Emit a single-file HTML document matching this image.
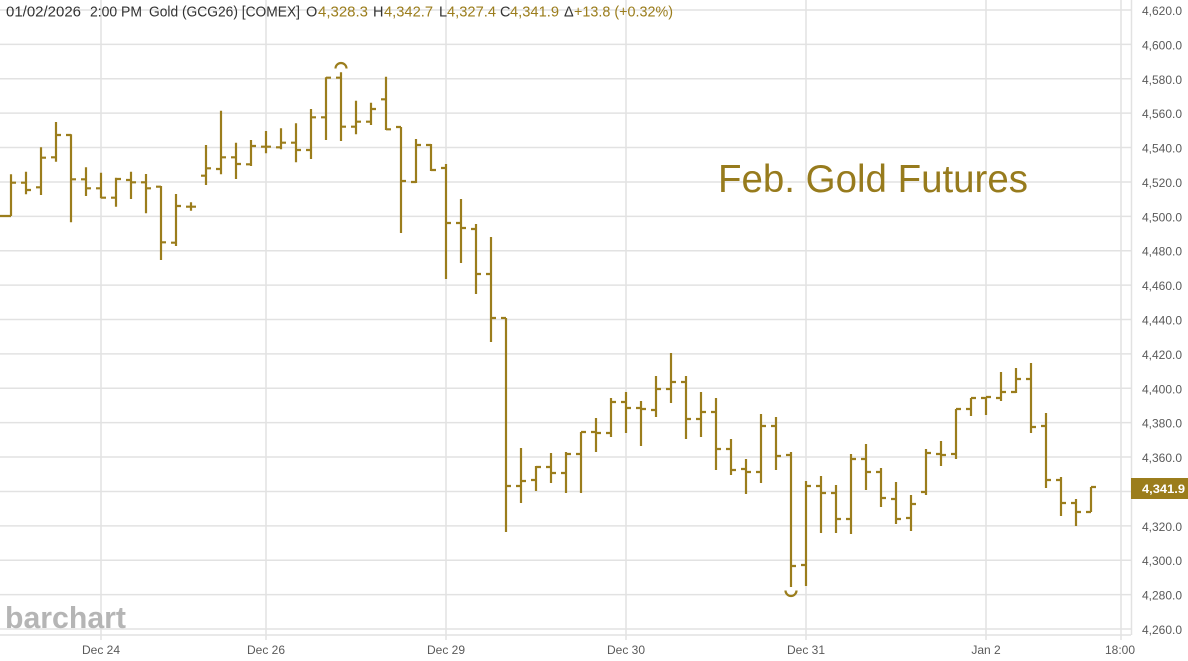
<!DOCTYPE html>
<html>
<head>
<meta charset="utf-8">
<style>
html,body{margin:0;padding:0;background:#fff;}
svg{display:block;}
text{font-family:"Liberation Sans",Arial,sans-serif;}
</style>
</head>
<body>
<svg width="1188" height="661" viewBox="0 0 1188 661" xmlns="http://www.w3.org/2000/svg">
<rect width="1188" height="661" fill="#fff"/>
<g stroke="#e2e2e2" stroke-width="1.5" fill="none">
<path d="M0 10H1131M0 44.39H1131M0 78.78H1131M0 113.17H1131M0 147.56H1131M0 181.94H1131M0 216.33H1131M0 250.72H1131M0 285.11H1131M0 319.5H1131M0 353.89H1131M0 388.28H1131M0 422.67H1131M0 457.06H1131M0 491.44H1131M0 525.83H1131M0 560.22H1131M0 594.61H1131M0 629H1131"/>
<path d="M101 0V640M266 0V640M446 0V640M626 0V640M806 0V640M986 0V640M1121 0V640"/>
<path d="M0 635H1131M1131.5 0V635"/>
</g>
<text x="5" y="628" font-size="31" font-weight="bold" fill="#b5b5b5" textLength="121" lengthAdjust="spacingAndGlyphs">barchart</text>
<text x="718" y="192" font-size="39" fill="#977b1d" textLength="310" lengthAdjust="spacingAndGlyphs">Feb. Gold Futures</text>
<g stroke="#9b7d1c" stroke-width="2.2" fill="none">
<path d="M11 174.3V216M0 216H11M11 182.7H16M26 171.7V194.3M21 182.7H26M26 190H31M41 147.3V195M36 187.3H41M41 157.7H46M56 122V161.7M51 157.3H56M56 135H61M71 134.3V222.3M66 135H71M71 179.3H76M86 167.3V196M81 179.3H86M86 188.3H91M101 172.7V198.3M96 188.3H101M101 197.7H106M116 177.7V206.7M111 197.7H116M116 179H121M131 171.7V199M126 180H131M131 182.3H136M146 174V213.3M141 182.3H146M146 188.3H151M161 186V260M156 186.7H161M161 242.3H166M176 194V246M171 242.7H176M176 206H181M191 202.3V210.7M186 206.7H196M206 145V185M201 175.7H206M206 168.3H211M221 110.7V174.3M216 169H221M221 157.3H226M236 142.7V179M231 157.3H236M236 164H241M251 140V166M246 164.3H251M251 146H256M266 131V153.3M261 146.7H271M281 128.3V149.3M276 147.3H281M281 142.7H286M296 123.3V162.3M291 142.7H296M296 150H301M311 109V159M306 150H311M311 117.3H316M326 77.3V140M321 117.3H326M326 77.7H331M341 72.3V141M336 77.7H341M341 126.7H346M356 100.7V134.3M351 126.7H356M356 121.7H361M371 102.7V125M366 121.7H371M371 109H376M386 76.7V130M381 99.3H386M386 129.3H391"/>
<path d="M401 127V233M396 127H401M401 181H406M416 139V183M411 182H416M416 145H421M431 144V171M426 145H431M431 170H436M446 164V279M441 168H446M446 223H451M461 199V263M456 223H461M461 228H466M476 224V294M471 229H476M476 274H481M491 237V342M486 274H491M491 318H496M506 318V532M501 318H506M506 486H511M521 448V503M516 486H521M521 481H526M536 466V491M531 480H536M536 467H541M551 453V483M546 467H551M551 473H556M566 452V493M561 473H566M566 454H571M581 432V493M576 454H581M581 432H586M596 418V452M591 432H596M596 433H601M611 398V437M606 433H611M611 402H616M626 392V433M621 402H626M626 408H631M641 401V446M636 408H641M641 409H646M656 376V417M651 410H656M656 389H661M671 353V403M666 389H671M671 382H676M686 376V439M681 382H686M686 419H691M701 392V437M696 419H701M701 412H706M716 398V470M711 412H716M716 449H721M731 439V475M726 449H731M731 470H736M746 459V494M741 469H746M746 472H751M761 414V483M756 472H761M761 426H766M776 417V470M771 426H776M776 456H781"/>
<path d="M791 452V587M786 455H791M791 566H796M806 481V586M801 565H806M806 486H811M821 476V533M816 486H821M821 493H826M836 485V533M831 493H836M836 519H841M851 454V534M846 519H851M851 459H856M866 444V490M861 459H866M866 472H871M881 468V507M876 472H881M881 498H886M896 482V524M891 499H896M896 519H901M911 495V531M906 518H911M911 504H916M926 449V495M921 492H926M926 453H931M941 441V466M936 454H941M941 455H946M956 409V459M951 454H956M956 409H961M971 398V416M966 409H971M971 398H976M986 397V415M981 398H986M986 397H991M1001 372V401M996 398H1001M1001 392H1006M1016 368V393M1011 392H1016M1016 379H1021M1031 363V433M1026 379H1031M1031 427H1036M1046 413V488M1041 426H1046M1046 480H1051M1061 477V516M1056 480H1061M1061 503H1066M1076 499V526M1071 503H1076M1076 512H1081M1091 487V512M1086 512H1091M1091 487H1096"/>
<path d="M335.5 68.5A5.5 5.5 0 0 1 346.5 68.5"/>
<path d="M785.5 590.5A5.5 5.5 0 0 0 796.5 590.5"/>
</g>
<g font-size="12" fill="#5a5a5a">
<text x="1142" y="15">4,620.0</text>
<text x="1142" y="49.4">4,600.0</text>
<text x="1142" y="83.8">4,580.0</text>
<text x="1142" y="118.2">4,560.0</text>
<text x="1142" y="152.6">4,540.0</text>
<text x="1142" y="186.9">4,520.0</text>
<text x="1142" y="221.3">4,500.0</text>
<text x="1142" y="255.7">4,480.0</text>
<text x="1142" y="290.1">4,460.0</text>
<text x="1142" y="324.5">4,440.0</text>
<text x="1142" y="358.9">4,420.0</text>
<text x="1142" y="393.3">4,400.0</text>
<text x="1142" y="427.7">4,380.0</text>
<text x="1142" y="462.1">4,360.0</text>
<text x="1142" y="530.8">4,320.0</text>
<text x="1142" y="565.2">4,300.0</text>
<text x="1142" y="599.6">4,280.0</text>
<text x="1142" y="634">4,260.0</text>
</g>
<rect x="1131" y="478" width="57" height="21" fill="#9b7d1c"/>
<text x="1142" y="493" font-size="12" font-weight="bold" fill="#fff" textLength="43" lengthAdjust="spacingAndGlyphs">4,341.9</text>
<g font-size="12" fill="#5a5a5a" text-anchor="middle">
<text x="101" y="654">Dec 24</text>
<text x="266" y="654">Dec 26</text>
<text x="446" y="654">Dec 29</text>
<text x="626" y="654">Dec 30</text>
<text x="806" y="654">Dec 31</text>
<text x="986" y="654">Jan 2</text>
<text x="1120" y="654">18:00</text>
</g>
<g font-size="14.5">
<text x="6" y="16.5" fill="#333" textLength="75" lengthAdjust="spacingAndGlyphs">01/02/2026</text>
<text x="90" y="16.5" fill="#333" textLength="52" lengthAdjust="spacingAndGlyphs">2:00 PM</text>
<text x="149" y="16.5" fill="#333" textLength="151" lengthAdjust="spacingAndGlyphs">Gold (GCG26) [COMEX]</text>
<text x="306" y="16.5" fill="#333">O</text>
<text x="318" y="16.5" fill="#9b7d1c" textLength="50" lengthAdjust="spacingAndGlyphs">4,328.3</text>
<text x="373" y="16.5" fill="#333">H</text>
<text x="384" y="16.5" fill="#9b7d1c" textLength="49" lengthAdjust="spacingAndGlyphs">4,342.7</text>
<text x="439" y="16.5" fill="#333">L</text>
<text x="447" y="16.5" fill="#9b7d1c" textLength="49" lengthAdjust="spacingAndGlyphs">4,327.4</text>
<text x="500" y="16.5" fill="#333">C</text>
<text x="510" y="16.5" fill="#9b7d1c" textLength="49" lengthAdjust="spacingAndGlyphs">4,341.9</text>
<text x="564" y="16.5" fill="#333">Δ</text>
<text x="574" y="16.5" fill="#9b7d1c" textLength="99" lengthAdjust="spacingAndGlyphs">+13.8 (+0.32%)</text>
</g>
</svg>
</body>
</html>
